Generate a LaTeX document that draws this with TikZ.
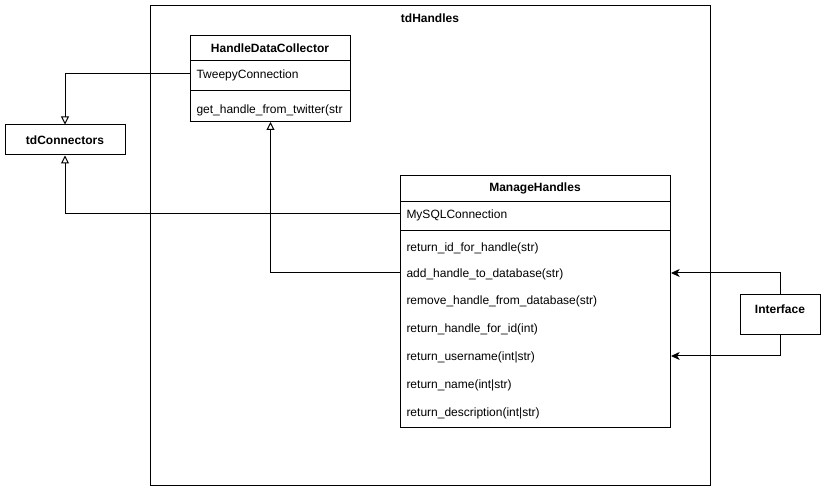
\documentclass[tikz,border=0pt]{standalone}
\usepackage{fontspec}
\setmainfont{Liberation Sans}
\usetikzlibrary{arrows.meta}
\begin{document}
\begin{tikzpicture}[x=0.75pt,y=-0.75pt,
  font=\fontsize{9pt}{11pt}\selectfont,
  every path/.style={line width=0.75pt},
  box/.style={draw,line width=0.75pt,inner sep=0pt,anchor=north west},
  plainbox/.style={draw,line width=0.75pt,inner sep=0pt,font=\fontsize{9pt}{11pt}\selectfont\bfseries},
  title/.style={font=\fontsize{9pt}{11pt}\selectfont\bfseries,inner sep=0pt},
  row/.style={anchor=west,inner xsep=4.5pt,inner ysep=0pt,text height=7.5pt,text depth=0.6pt,align=left},
  hdcrow/.style={row,text width=111pt},
  mhrow/.style={row,text width=193.5pt},
  inh/.style={-{Triangle[open,length=6pt,width=6pt]}},
  uses/.style={-{Stealth[length=6.5pt,width=6pt,inset=1.8pt]}}]
\useasboundingbox (0,0) rectangle (826,491);

% package frame
\node[box,minimum width=420pt,minimum height=360pt] (pkg) at (150,5) {};
\node[title] (pkgname) at (430,18) {tdHandles};

% class HandleDataCollector
\node[box,minimum width=120pt,minimum height=64.5pt] (hdc) at (190,35) {};
\node[title] (hdcname) at (270,48) {HandleDataCollector};
\draw (190,61) -- (350,61);
\draw (190,91) -- (350,91);
\node[hdcrow] (tw) at (190,74) {TweepyConnection};
\node[hdcrow] (gh) at (190,109) {get\_handle\_from\_twitter(str};

% class ManageHandles
\node[box,minimum width=202.5pt,minimum height=189pt] (mh) at (400,175) {};
\node[title] (mhname) at (535,188) {ManageHandles};
\draw (400,202) -- (670,202);
\draw (400,231) -- (670,231);
\node[mhrow] (my) at (400,214) {MySQLConnection};
\node[mhrow] (rid) at (400,247) {return\_id\_for\_handle(str)};
\node[mhrow] (add) at (400,273) {add\_handle\_to\_database(str)};
\node[mhrow] (rem) at (400,300) {remove\_handle\_from\_database(str)};
\node[mhrow] (rh) at (400,328) {return\_handle\_for\_id(int)};
\node[mhrow] (un) at (400,356) {return\_username(int|str)};
\node[mhrow] (nm) at (400,384) {return\_name(int|str)};
\node[mhrow] (ds) at (400,412) {return\_description(int|str)};

% external modules
\node[plainbox,minimum width=90pt,minimum height=22.5pt] (tdc) at (65,140) {tdConnectors};
\node[plainbox,minimum width=60pt,minimum height=30pt] (itf) at (780,315) {};
\node[title] (itfname) at (780,309) {Interface};

% connectors
\draw[inh] (tw.west) -| (tdc.north);
\draw[inh] (my.west) -| (tdc.south);
\draw[inh] (add.west) -| (hdc.south);
\draw[uses] (itf.north) |- (add.east);
\draw[uses] (itf.south) |- (un.east);
\end{tikzpicture}
\end{document}
